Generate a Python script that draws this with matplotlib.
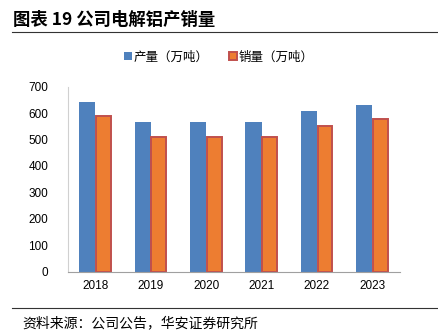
import matplotlib
matplotlib.use("Agg")
import matplotlib.pyplot as plt
import numpy as np

plt.rcParams['font.family'] = ['Noto Sans CJK SC', 'DejaVu Sans']

years = ['2018', '2019', '2020', '2021', '2022', '2023']
production = [641, 568, 566, 567, 608, 632]
sales = [589, 508, 508, 508, 551, 578]
series_names = ['产量（万吨）', '销量（万吨）']

fig = plt.figure(figsize=(4.38, 3.34), dpi=100)
ax = fig.add_axes([67.7 / 438, 1 - 271.7 / 334, (400 - 67.7) / 438, (271.7 - 86.7) / 334])

x = np.arange(len(years))
w = 0.29
ax.bar(x - w / 2, production, width=w, color='#4F81BD', label=series_names[0])
ax.bar(x + w / 2, sales, width=w * 0.92, color='#ED7D31', edgecolor='#C0504D',
       linewidth=1.4, label=series_names[1])

ax.set_xlim(-0.5, len(years) - 0.5)
ax.set_ylim(0, 700)
ax.set_yticks(range(0, 701, 100))
ax.set_xticks(x)
ax.set_xticklabels(years, fontsize=8.5, family='Liberation Sans')
for t in ax.get_yticklabels():
    t.set_fontsize(8.5)
    t.set_family('Liberation Sans')
ax.tick_params(length=0, pad=6)
ax.tick_params(axis='y', pad=14)
for s in ['top', 'right']:
    ax.spines[s].set_visible(False)
ax.spines['left'].set_color('#D0D0D0')
ax.spines['bottom'].set_color('#A0A0A0')

ax.legend(loc='center', bbox_to_anchor=(0.5, 1 - 57 / 334), bbox_transform=fig.transFigure,
          ncol=2, frameon=False, fontsize=9, handlelength=0.6, handleheight=0.6,
          handletextpad=0.2, columnspacing=1.6)

fig.text(13 / 438, 1 - 20 / 334, '图表 19 公司电解铝产销量', fontsize=12.5, fontweight='bold',
         va='center', ha='left')
fig.add_artist(plt.Line2D([12 / 438, 1], [1 - 32 / 334] * 2, color='#333333', lw=0.8))
fig.add_artist(plt.Line2D([12 / 438, 1], [1 - 308 / 334] * 2, color='#333333', lw=0.8))
fig.text(22 / 438, 1 - 323 / 334, '资料来源：公司公告，华安证券研究所', fontsize=10,
         va='center', ha='left')

fig.savefig('out.png', dpi=100)
